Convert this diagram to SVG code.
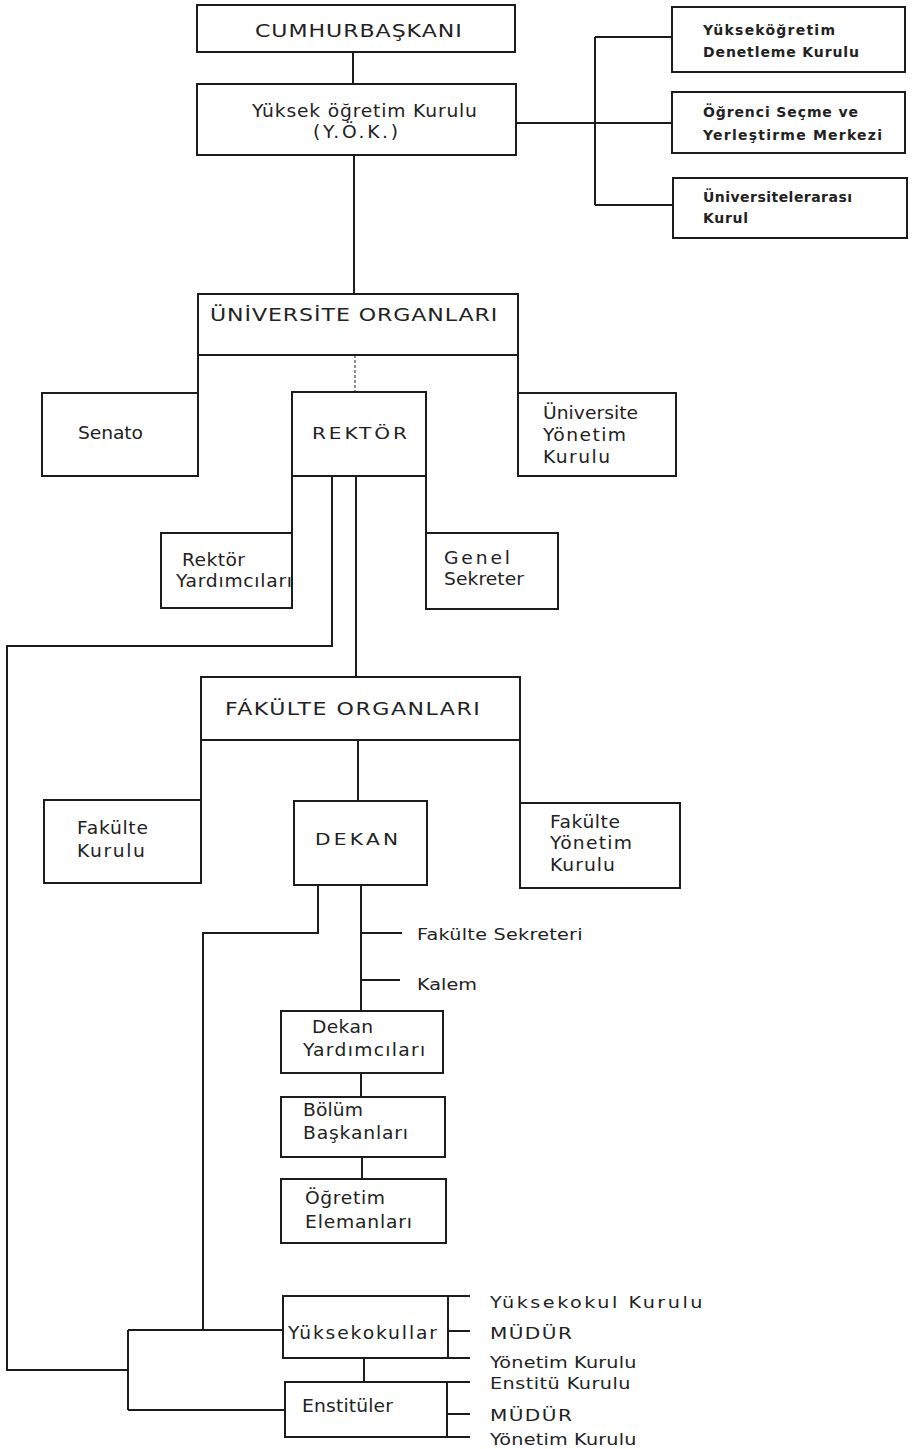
<svg xmlns="http://www.w3.org/2000/svg" width="912" height="1449" viewBox="0 0 912 1449">
<style>
.bx{fill:#fff;stroke:#1c1c1c;stroke-width:2}
.ln{fill:none;stroke:#1c1c1c;stroke-width:2}
.dt{fill:none;stroke:#555;stroke-width:1.3;stroke-dasharray:3 2}
text{font-family:"DejaVu Sans","Liberation Sans",sans-serif;fill:#222;font-size:17px}
.t{font-size:17px}
.s{font-size:14px;font-weight:bold}
.m{font-size:15.5px}
.r{font-size:16px}
</style>
<rect width="912" height="1449" fill="#fff"/>
<g id="connectors">
<path class="ln" d="M353,52 V84"/>
<path class="ln" d="M516,123 H672 M595,37 V205 M595,37 H672 M595,205 H673"/>
<path class="ln" d="M354,155 V294"/>
<path class="dt" d="M355,355 V392"/>
<path class="ln" d="M198,355 V393 M518,355 V393"/>
<path class="ln" d="M292,476 V533 M426,476 V533"/>
<path class="ln" d="M332,476 V646 H7 V1370 H128"/>
<path class="ln" d="M356,476 V677"/>
<path class="ln" d="M201,740 V800 M358,740 V801 M520,740 V803"/>
<path class="ln" d="M318,885 V933 H203 V1330"/>
<path class="ln" d="M361,885 V1011 M361,933 H402 M361,980 H400"/>
<path class="ln" d="M361,1073 V1097 M362,1157 V1179"/>
<path class="ln" d="M128,1330 V1410 M128,1330 H283 M128,1410 H285"/>
<path class="ln" d="M448,1296 H470 M448,1331 H470 M448,1358 H470"/>
<path class="ln" d="M364,1358 V1382"/>
<path class="ln" d="M447,1382 H470 M447,1414 H470 M447,1437 H470"/>
</g>
<g id="cumhurbaskani"><rect class="bx" x="197" y="5" width="318" height="47"/><text class="t" transform="translate(255,37) scale(1.3,1)" textLength="159" lengthAdjust="spacing">CUMHURBAŞKANI</text></g>
<g id="yok"><rect class="bx" x="197" y="84" width="319" height="71"/><text transform="translate(252,117) scale(1.1,1)" textLength="204.5" lengthAdjust="spacing">Yüksek öğretim Kurulu</text><text transform="translate(313,138) scale(1.1,1)" textLength="77.3" lengthAdjust="spacing">(Y.Ö.K.)</text></g>
<g id="denetleme"><rect class="bx" x="672" y="7" width="233" height="65"/><text class="s" x="703" y="35" textLength="132" lengthAdjust="spacing">Yükseköğretim</text><text class="s" x="703" y="57" textLength="156" lengthAdjust="spacing">Denetleme Kurulu</text></g>
<g id="osym"><rect class="bx" x="672" y="92" width="233" height="61"/><text class="s" x="703" y="117" textLength="155" lengthAdjust="spacing">Öğrenci Seçme ve</text><text class="s" x="703" y="140" textLength="179" lengthAdjust="spacing">Yerleştirme Merkezi</text></g>
<g id="uak"><rect class="bx" x="673" y="178" width="234" height="60"/><text class="s" x="703" y="202" textLength="149" lengthAdjust="spacing">Üniversitelerarası</text><text class="s" x="703" y="223" textLength="45" lengthAdjust="spacing">Kurul</text></g>
<g id="universite-organlari"><rect class="bx" x="198" y="294" width="320" height="61"/><text class="t" transform="translate(210,321) scale(1.3,1)" textLength="221" lengthAdjust="spacing">ÜNİVERSİTE ORGANLARI</text></g>
<g id="senato"><rect class="bx" x="42" y="393" width="156" height="83"/><text transform="translate(78,439) scale(1.1,1)" textLength="59" lengthAdjust="spacing">Senato</text></g>
<g id="rektor"><rect class="bx" x="292" y="392" width="134" height="84"/><text class="m" transform="translate(312,439) scale(1.3,1)" textLength="73" lengthAdjust="spacing">REKTÖR</text></g>
<g id="universite-yonetim-kurulu"><rect class="bx" x="518" y="393" width="158" height="83"/><text transform="translate(543,419) scale(1.1,1)" textLength="86.4" lengthAdjust="spacing">Üniversite</text><text transform="translate(543,441) scale(1.1,1)" textLength="75.5" lengthAdjust="spacing">Yönetim</text><text transform="translate(543,463) scale(1.1,1)" textLength="61" lengthAdjust="spacing">Kurulu</text></g>
<g id="rektor-yardimcilari"><rect class="bx" x="161" y="533" width="131" height="75"/><text transform="translate(182,566) scale(1.1,1)" textLength="57.3" lengthAdjust="spacing">Rektör</text><text transform="translate(176,587) scale(1.1,1)" textLength="105.5" lengthAdjust="spacing">Yardımcıları</text></g>
<g id="genel-sekreter"><rect class="bx" x="426" y="533" width="132" height="76"/><text transform="translate(444,564) scale(1.1,1)" textLength="60" lengthAdjust="spacing">Genel</text><text transform="translate(444,585) scale(1.1,1)" textLength="72.7" lengthAdjust="spacing">Sekreter</text></g>
<g id="fakulte-organlari"><rect class="bx" x="201" y="677" width="319" height="63"/><text class="t" transform="translate(225,715) scale(1.3,1)" textLength="196" lengthAdjust="spacing">FÁKÜLTE ORGANLARI</text></g>
<g id="fakulte-kurulu"><rect class="bx" x="44" y="800" width="157" height="83"/><text transform="translate(77,834) scale(1.1,1)" textLength="64.5" lengthAdjust="spacing">Fakülte</text><text transform="translate(77,857) scale(1.1,1)" textLength="61.8" lengthAdjust="spacing">Kurulu</text></g>
<g id="dekan"><rect class="bx" x="294" y="801" width="133" height="84"/><text class="m" transform="translate(315,845) scale(1.3,1)" textLength="64" lengthAdjust="spacing">DEKAN</text></g>
<g id="fakulte-yonetim-kurulu"><rect class="bx" x="520" y="803" width="160" height="85"/><text transform="translate(550,828) scale(1.1,1)" textLength="63.6" lengthAdjust="spacing">Fakülte</text><text transform="translate(550,849) scale(1.1,1)" textLength="74.5" lengthAdjust="spacing">Yönetim</text><text transform="translate(550,871) scale(1.1,1)" textLength="59" lengthAdjust="spacing">Kurulu</text></g>
<g id="fakulte-sekreteri"><text class="r" transform="translate(417,940) scale(1.2,1)" textLength="138" lengthAdjust="spacing">Fakülte Sekreteri</text></g>
<g id="kalem"><text class="r" transform="translate(417,990) scale(1.2,1)" textLength="50" lengthAdjust="spacing">Kalem</text></g>
<g id="dekan-yardimcilari"><rect class="bx" x="281" y="1011" width="162" height="62"/><text transform="translate(312,1033) scale(1.1,1)" textLength="55.5" lengthAdjust="spacing">Dekan</text><text transform="translate(303,1056) scale(1.1,1)" textLength="111" lengthAdjust="spacing">Yardımcıları</text></g>
<g id="bolum-baskanlari"><rect class="bx" x="281" y="1097" width="164" height="60"/><text transform="translate(303,1116) scale(1.1,1)" textLength="54.5" lengthAdjust="spacing">Bölüm</text><text transform="translate(303,1139) scale(1.1,1)" textLength="95.5" lengthAdjust="spacing">Başkanları</text></g>
<g id="ogretim-elemanlari"><rect class="bx" x="281" y="1179" width="165" height="64"/><text transform="translate(305,1204) scale(1.1,1)" textLength="72.7" lengthAdjust="spacing">Öğretim</text><text transform="translate(305,1228) scale(1.1,1)" textLength="97.3" lengthAdjust="spacing">Elemanları</text></g>
<g id="yuksekokullar"><rect class="bx" x="283" y="1296" width="165" height="62"/><text transform="translate(288,1339) scale(1.1,1)" textLength="135.5" lengthAdjust="spacing">Yüksekokullar</text></g>
<g id="yuksekokul-kurulu"><text class="r" transform="translate(490,1308) scale(1.2,1)" textLength="177" lengthAdjust="spacing">Yüksekokul Kurulu</text></g>
<g id="yuksekokul-mudur"><text class="m" transform="translate(490,1339) scale(1.3,1)" textLength="63" lengthAdjust="spacing">MÜDÜR</text></g>
<g id="yuksekokul-yonetim-kurulu"><text class="r" transform="translate(490,1368) scale(1.2,1)" textLength="122" lengthAdjust="spacing">Yönetim Kurulu</text></g>
<g id="enstituler"><rect class="bx" x="285" y="1382" width="162" height="55"/><text transform="translate(302,1412) scale(1.1,1)" textLength="82.7" lengthAdjust="spacing">Enstitüler</text></g>
<g id="enstitu-kurulu"><text class="r" transform="translate(490,1389) scale(1.2,1)" textLength="117" lengthAdjust="spacing">Enstitü Kurulu</text></g>
<g id="enstitu-mudur"><text class="m" transform="translate(490,1421) scale(1.3,1)" textLength="63" lengthAdjust="spacing">MÜDÜR</text></g>
<g id="enstitu-yonetim-kurulu"><text class="r" transform="translate(490,1445) scale(1.2,1)" textLength="122" lengthAdjust="spacing">Yönetim Kurulu</text></g>
</svg>
